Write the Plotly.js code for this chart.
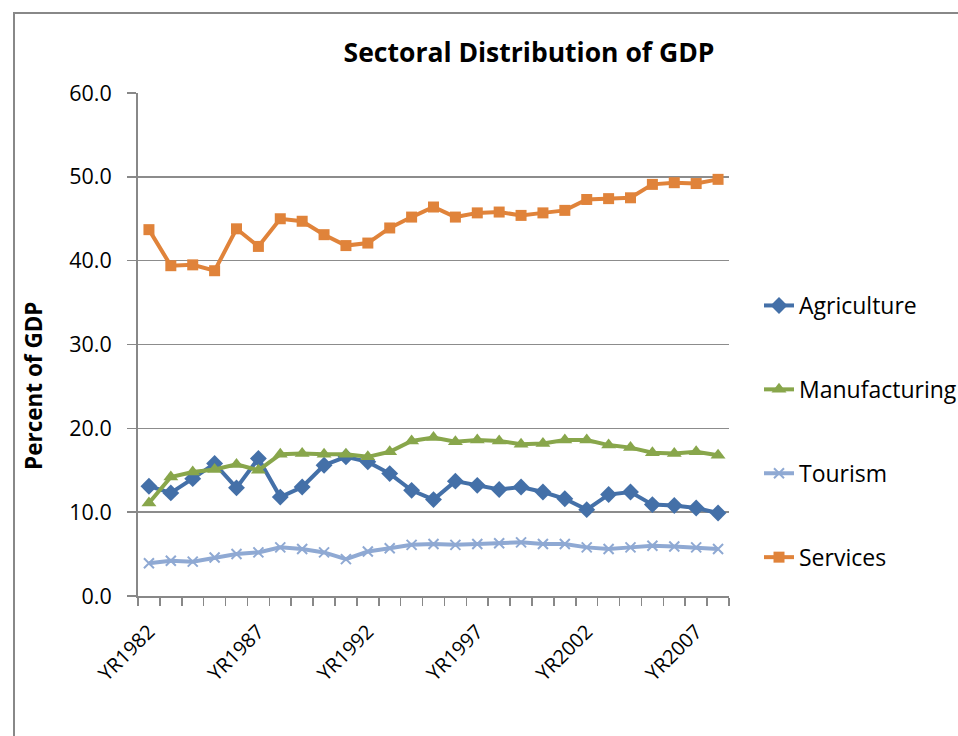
<!DOCTYPE html>
<html>
<head>
<meta charset="utf-8">
<script src="https://cdn.plot.ly/plotly-3.0.1.min.js"></script>
<style>
html,body{margin:0;padding:0;background:#fff;}
#chart{width:958px;height:736px;}
</style>
</head>
<body>
<div id="chart"></div>
<script>
const years = [1982,1983,1984,1985,1986,1987,1988,1989,1990,1991,1992,1993,1994,1995,1996,1997,1998,1999,2000,2001,2002,2003,2004,2005,2006,2007,2008];
const tickYears = [1982,1987,1992,1997,2002,2007];
const tickLabels = ["YR1982","YR1987","YR1992","YR1997","YR2002","YR2007"];

const agriculture = [13.1,12.3,14.0,15.8,12.9,16.4,11.8,13.0,15.6,16.6,16.0,14.6,12.6,11.5,13.7,13.2,12.7,13.0,12.4,11.6,10.3,12.1,12.4,10.9,10.8,10.5,9.9];
const manufacturing = [11.1,14.2,14.8,15.1,15.7,15.0,16.9,17.0,16.9,16.9,16.6,17.2,18.5,18.9,18.4,18.6,18.5,18.1,18.2,18.6,18.6,18.0,17.7,17.1,17.0,17.2,16.8];
const tourism = [3.9,4.2,4.1,4.6,5.0,5.2,5.8,5.6,5.2,4.4,5.3,5.7,6.1,6.2,6.1,6.2,6.3,6.4,6.2,6.2,5.8,5.6,5.8,6.0,5.9,5.8,5.6];
const services = [43.7,39.4,39.5,38.8,43.8,41.7,45.0,44.7,43.1,41.8,42.1,43.9,45.2,46.4,45.2,45.7,45.8,45.4,45.7,46.0,47.3,47.4,47.5,49.1,49.3,49.2,49.7];

const FONT = "Open Sans, Noto Sans, sans-serif";

function series(name, y, color, symbol, size, group){
  return {
    type:'scatter', mode:'lines+markers', name:name, x:years, y:y,
    legendgroup:group,
    line:{color:color, width:4},
    marker:{symbol:symbol, size:size, color:color, line:{color:color, width: symbol==='x-thin' ? 2 : 0}}
  };
}

const traces = [
  series('Agriculture', agriculture, '#4470a8', 'diamond', 13, 'a'),
  series('Manufacturing', manufacturing, '#88a64b', 'triangle-up', 13, 'b'),
  series('Tourism', tourism, '#8fa9d3', 'x-thin', 10, 'c'),
  series('Services', services, '#e0833a', 'square', 11, 'd')
];

const layout = {
  width:958, height:736,
  margin:{l:138, r:229, t:93, b:140, autoexpand:false},
  paper_bgcolor:'#fff', plot_bgcolor:'#fff',
  font:{family:FONT, color:'#000'},
  showlegend:true,
  title:{text:'<b>Sectoral Distribution of GDP</b>', font:{family:FONT, size:26.5, color:'#000'},
         x:529/958, xanchor:'center', y:1-53/736, yanchor:'middle', xref:'container', yref:'container'},
  xaxis:{
    range:[1981.5, 2008.5], showgrid:false, zeroline:false,
    showline:true, linecolor:'#888', linewidth:2,
    tickmode:'array', tickvals:tickYears, ticktext:tickLabels,
    ticks:'', tickangle:-45, tickfont:{family:FONT, size:20, color:'#000'},
    ticklabelstandoff:14, ticklabelshift:0,
    minor:{tickmode:'linear', tick0:1981.5, dtick:1, ticks:'outside', ticklen:8, tickwidth:1.5, tickcolor:'#888', showgrid:false}
  },
  yaxis:{
    range:[0,60], dtick:10, tickformat:'.1f', showgrid:true, gridcolor:'#8c8c8c', gridwidth:1.5,
    zeroline:false, showline:true, linecolor:'#888', linewidth:2,
    ticks:'outside', ticklen:9, tickwidth:1.5, tickcolor:'#888',
    tickfont:{family:FONT, size:21.5, color:'#000'}, ticklabelstandoff:11
  },
  annotations:[{text:'<b>Percent of GDP</b>', xref:'paper', yref:'paper', x:(33-138)/591, y:(596-386)/503,
                xanchor:'center', yanchor:'middle', textangle:-90, showarrow:false,
                font:{family:FONT, size:22.5, color:'#000'}}],
  legend:{x:(759-138)/591, xanchor:'left', y:(596-284)/503, yanchor:'top', font:{family:FONT, size:23, color:'#000'},
          tracegroupgap:51, bgcolor:'rgba(0,0,0,0)'},
  shapes:[{type:'rect', xref:'paper', yref:'paper',
           x0:(14-138)/591, x1:(965-138)/591, y0:(596-745)/503, y1:(596-13)/503,
           line:{color:'#888', width:2}, layer:'below'}]
};

Plotly.newPlot('chart', traces, layout, {displayModeBar:false, staticPlot:true});
</script>
</body>
</html>
